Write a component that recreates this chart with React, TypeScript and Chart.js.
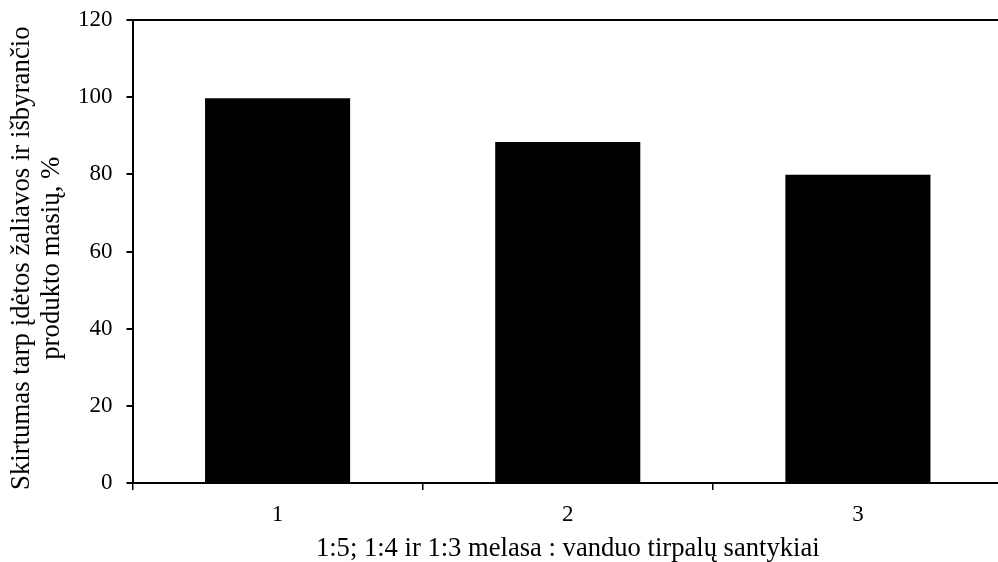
import { useEffect, useRef } from "react";
import { Chart, registerables } from "chart.js";

Chart.register(...registerables);

const categories = ["1", "2", "3"];
const values = [99.7, 88.4, 79.9];
const yMin = 0;
const yMax = 120;
const yStep = 20;
const yTitle = ["Skirtumas tarp įdėtos žaliavos ir išbyrančio  ", "produkto masių, %  "];
const xTitle = "1:5; 1:4 ir 1:3 melasa : vanduo tirpalų santykiai";

const FONT = "'Liberation Serif', 'Times New Roman', serif";

export default function App() {
  const ref = useRef<HTMLCanvasElement | null>(null);

  useEffect(() => {
    if (!ref.current) return;
    const chart = new Chart(ref.current, {
      type: "bar",
      data: {
        labels: categories,
        datasets: [
          {
            data: values,
            backgroundColor: "#000000",
            borderWidth: 0,
            barPercentage: 0.5,
            categoryPercentage: 1,
          },
        ],
      },
      options: {
        responsive: false,
        animation: false,
        devicePixelRatio: 1,
        layout: { padding: { top: 20, right: 0, left: 0, bottom: 0 } },
        plugins: {
          legend: { display: false },
          tooltip: { enabled: false },
          title: { display: false },
        },
        scales: {
          x: {
            offset: true,
            grid: {
              offset: true,
              drawOnChartArea: false,
              drawTicks: true,
              tickLength: 7,
              color: "#000",
              tickColor: "#000",
              lineWidth: 1.5,
            },
            border: { display: true, color: "#000", width: 2 },
            ticks: { color: "#000", font: { family: FONT, size: 23 }, padding: 11 },
            title: {
              display: true,
              text: xTitle,
              color: "#000",
              font: { family: FONT, size: 26.6, lineHeight: 1.0 },
              padding: { top: 0, bottom: 0 },
            },
            afterFit: (s: any) => {
              s.height = 79;
              s.paddingLeft = 0;
              s.paddingRight = 0;
            },
          },
          y: {
            min: yMin,
            max: yMax,
            grid: {
              drawOnChartArea: true,
              drawTicks: true,
              tickLength: 6,
              color: (c: any) => (c.tick && c.tick.value === yMax ? "#000" : "rgba(0,0,0,0)"),
              tickColor: "#000",
              lineWidth: 2,
            },
            border: { display: true, color: "#000", width: 2 },
            ticks: {
              stepSize: yStep,
              color: "#000",
              font: { family: FONT, size: 23 },
              padding: 14,
            },
            title: {
              display: true,
              text: yTitle,
              color: "#000",
              font: { family: FONT, size: 26.8, lineHeight: 1.12 },
              padding: { top: 7, bottom: 0 },
            },
            afterFit: (s: any) => {
              s.width = 132.5;
              s.paddingTop = 0;
              s.paddingBottom = 0;
            },
          },
        },
      },
    });
    return () => chart.destroy();
  }, []);

  return (
    <div style={{ position: "fixed", left: 0, top: 0, width: 998, height: 562, overflow: "hidden", background: "#fff" }}>
      <canvas ref={ref} width={1003} height={562} style={{ display: "block" }} />
    </div>
  );
}
